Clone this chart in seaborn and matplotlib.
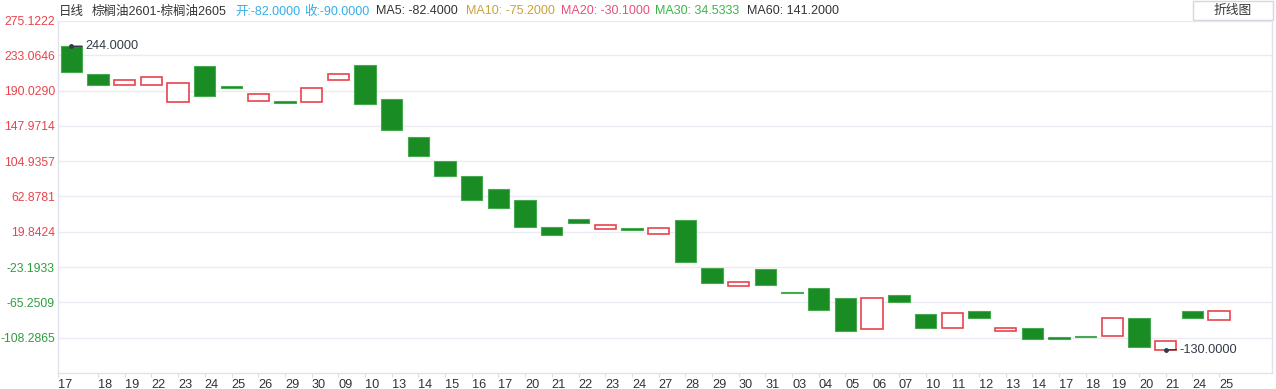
import matplotlib
matplotlib.use("Agg")
import matplotlib.pyplot as plt
import matplotlib.transforms as mtransforms
from matplotlib.patches import Rectangle
import seaborn as sns
import numpy as np

# ---------------- data ----------------
dates = ["17", "18", "19", "22", "23", "24", "25", "26", "29", "30",
         "09", "10", "13", "14", "15", "16", "17", "20", "21", "22",
         "23", "24", "27", "28", "29", "30", "31", "03", "04", "05",
         "06", "07", "10", "11", "12", "13", "14", "17", "18", "19",
         "20", "21", "24", "25"]
opens = [244.0, 211.0, 197.4, 197.4, 176.4, 219.7, 195.8, 178.3, 177.9, 176.4,
         203.8, 221.7, 180.0, 134.7, 105.2, 87.4, 71.0, 57.6, 25.7, 35.7,
         22.6, 24.2, 16.6, 33.7, -23.5, -46.2, -25.0, -53.0, -48.5, -60.8,
         -98.2, -56.9, -79.9, -96.6, -75.9, -100.6, -96.6, -107.8, -105.8, -106.4,
         -84.3, -122.8, -75.9, -87.0]
closes = [213.0, 197.4, 203.0, 207.4, 199.4, 184.3, 193.8, 186.0, 175.9, 193.5,
          211.0, 174.4, 142.6, 110.8, 87.7, 57.9, 48.4, 25.7, 16.2, 29.8,
          27.8, 22.2, 24.2, -17.2, -42.4, -40.6, -44.6, -54.5, -74.4, -100.6,
          -60.8, -65.0, -96.6, -78.5, -83.9, -96.6, -109.9, -110.2, -107.8, -84.5,
          -119.7, -111.7, -83.9, -75.9]
ytick_values = [275.1222, 233.0646, 190.0290, 147.9714, 104.9357, 62.8781,
                19.8424, -23.1933, -65.2509, -108.2865]
y_min = -151.3221
max_label = 244.0
min_label = -130.0

header_texts = ["日线", "棕榈油2601-棕榈油2605", "开:-82.0000", "收:-90.0000",
                "MA5: -82.4000", "MA10: -75.2000", "MA20: -30.1000",
                "MA30: 34.5333", "MA60: 141.2000"]
header_colors = ["#333333", "#333333", "#35aee6", "#35aee6", "#333333",
                 "#c9a23a", "#e8507a", "#3ab54a", "#333333"]
header_x = [59, 92, 235, 304, 376, 466, 561, 655, 747]

# ---------------- style ----------------
sns.set_theme(style="white")
plt.rcParams['font.family'] = ['Liberation Sans', 'Noto Sans CJK SC', 'DejaVu Sans']

W, H = 1276, 389
fig = plt.figure(figsize=(W / 100, H / 100), dpi=100)
fig.patch.set_facecolor("white")
ax_left, ax_right, ax_top, ax_bot = 58, 1272, 20.5, 373.3
ax = fig.add_axes([ax_left / W, 1 - ax_bot / H, (ax_right - ax_left) / W, (ax_bot - ax_top) / H])
ax.set_facecolor("white")

x = np.arange(len(dates))
o = np.array(opens)
c = np.array(closes)
up = c > o
bottom = np.minimum(o, c)
height = np.maximum(np.abs(c - o), 1.2)

ax.bar(x[~up], height[~up], bottom=bottom[~up], width=0.8, color="#1a8c24",
       edgecolor="#46a950", linewidth=0.8, zorder=3)
ax.bar(x[up], height[up], bottom=bottom[up], width=0.8, facecolor="white",
       edgecolor="#e8434d", linewidth=1.2, zorder=3)

ax.set_xlim(-0.5, 44.98)
ax.set_ylim(y_min, ytick_values[0])

# y axis
ax.set_yticks(ytick_values)
ax.set_yticklabels([f"{v:.4f}" for v in ytick_values])
for lab, v in zip(ax.get_yticklabels(), ytick_values):
    lab.set_color("#e8444c" if v >= 0 else "#2e9e3e")
    lab.set_fontsize(8.7)
ax.tick_params(axis="y", length=0, pad=2.2)
ax.grid(axis="y", color="#ebebf3", linewidth=1, zorder=0)
ax.grid(axis="x", visible=False)

# x axis
xt = [-0.5] + list(range(1, len(dates)))
ax.set_xticks(xt)
ax.set_xticklabels(dates)
offset = mtransforms.ScaledTranslation(2 / 100, 0, fig.dpi_scale_trans)
for lab in ax.get_xticklabels():
    lab.set_horizontalalignment("left")
    lab.set_transform(lab.get_transform() + offset)
    lab.set_fontsize(9.2)
    lab.set_color("#333333")
ax.tick_params(axis="x", length=3, width=0.8, color="#dcdce8", pad=1, direction="out", bottom=True)

for side in ["left", "bottom", "right"]:
    ax.spines[side].set_visible(True)
    ax.spines[side].set_color("#e2e2ec")
    ax.spines[side].set_linewidth(1)
ax.spines["top"].set_visible(False)

# max / min annotations
tops = np.maximum(o, c)
i_max = int(np.argmax(tops))
i_min = int(np.argmin(bottom))
for idx, yv, lbl in [(i_max, tops[i_max], max_label), (i_min, bottom[i_min], min_label)]:
    ax.plot([idx], [yv], marker="o", markersize=2.5, color="#333a48", zorder=5)
    ax.annotate(f"{lbl:.4f}", xy=(idx, yv), xytext=(10, 0), textcoords="offset points",
                ha="left", va="center", fontsize=9.2, color="#333a48", zorder=5,
                arrowprops=dict(arrowstyle="-", color="#333a48", lw=1,
                                shrinkA=0, shrinkB=0))

# header
for t, col, hx in zip(header_texts, header_colors, header_x):
    fig.text(hx / W, 1 - 11.5 / H, t, color=col, fontsize=9.0, ha="left", va="center")

# button
fig.patches.append(Rectangle((1193 / W, 1 - 20 / H), 80 / W, 19 / H,
                             transform=fig.transFigure, facecolor="white",
                             edgecolor="#d5d5e3", linewidth=1))
fig.text(1233 / W, 1 - 11 / H, "折线图", color="#333333", fontsize=9.2,
         ha="center", va="center")

fig.savefig("out.png", dpi=100, facecolor="white")
